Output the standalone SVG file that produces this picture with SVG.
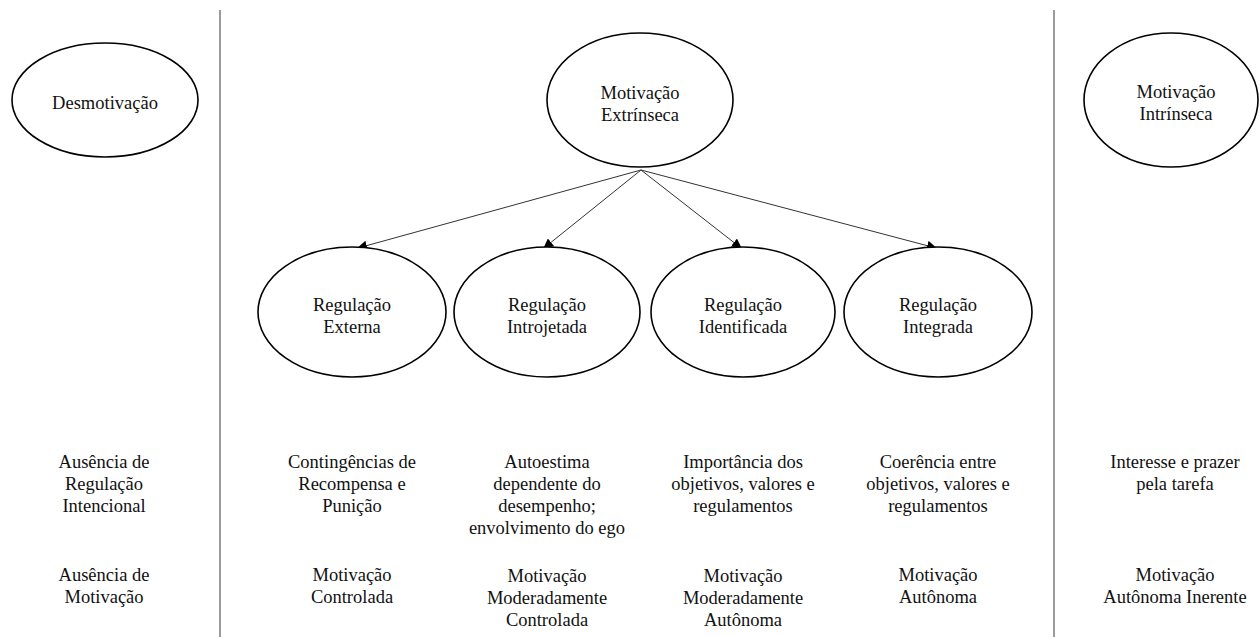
<svg xmlns="http://www.w3.org/2000/svg" width="1260" height="637" viewBox="0 0 1260 637">
<defs>
<marker id="arr" markerWidth="10" markerHeight="10" refX="9" refY="5" orient="auto" markerUnits="userSpaceOnUse">
<path d="M0,0 L10,5 L0,10 Z" fill="#000"/>
</marker>
<style>
.n{fill:#fff;stroke:#000;stroke-width:1.6}
text{font-family:'Liberation Serif','DejaVu Serif',serif;font-size:18.5px;fill:#111;text-anchor:middle}
.c{stroke:#333;stroke-width:1;fill:none;marker-end:url(#arr)}
.d{stroke:#666;stroke-width:1.3}
</style>
</defs>
<rect width="1260" height="637" fill="#fff"/>
<g id="dividers">
<line class="d" x1="220" y1="10" x2="220" y2="637"/>
<line class="d" x1="1054" y1="10" x2="1054" y2="637"/>
</g>
<g id="connectors">
<line class="c" x1="641" y1="170" x2="358" y2="248"/>
<line class="c" x1="641" y1="170" x2="544" y2="248"/>
<line class="c" x1="641" y1="170" x2="741" y2="248"/>
<line class="c" x1="641" y1="170" x2="936" y2="248"/>
</g>
<g id="desmotivacao">
<ellipse class="n" cx="105" cy="100" rx="93" ry="57"/>
<text x="105" y="109">Desmotivação</text>
</g>
<g id="extrinseca">
<ellipse class="n" cx="640" cy="100" rx="93" ry="67"/>
<text x="640" y="99">Motivação</text>
<text x="640" y="121">Extrínseca</text>
</g>
<g id="intrinseca">
<ellipse class="n" cx="1171" cy="100" rx="87" ry="67"/>
<text x="1176" y="98">Motivação</text>
<text x="1176" y="120">Intrínseca</text>
</g>
<g id="externa">
<ellipse class="n" cx="352" cy="312" rx="94" ry="65"/>
<text x="352" y="311">Regulação</text>
<text x="352" y="333">Externa</text>
</g>
<g id="introjetada">
<ellipse class="n" cx="547" cy="312" rx="93" ry="65"/>
<text x="547" y="311">Regulação</text>
<text x="547" y="333">Introjetada</text>
</g>
<g id="identificada">
<ellipse class="n" cx="743" cy="312" rx="92" ry="65"/>
<text x="743" y="311">Regulação</text>
<text x="743" y="333">Identificada</text>
</g>
<g id="integrada">
<ellipse class="n" cx="938" cy="312" rx="94" ry="65"/>
<text x="938" y="311">Regulação</text>
<text x="938" y="333">Integrada</text>
</g>
<g id="row1">
<text x="104" y="468">Ausência de</text>
<text x="104" y="490">Regulação</text>
<text x="104" y="512">Intencional</text>
<text x="352" y="468">Contingências de</text>
<text x="352" y="490">Recompensa e</text>
<text x="352" y="512">Punição</text>
<text x="547" y="468">Autoestima</text>
<text x="547" y="490">dependente do</text>
<text x="547" y="512">desempenho;</text>
<text x="547" y="534">envolvimento do ego</text>
<text x="743" y="468">Importância dos</text>
<text x="743" y="490">objetivos, valores e</text>
<text x="743" y="512">regulamentos</text>
<text x="938" y="468">Coerência entre</text>
<text x="938" y="490">objetivos, valores e</text>
<text x="938" y="512">regulamentos</text>
<text x="1175" y="468">Interesse e prazer</text>
<text x="1175" y="490">pela tarefa</text>
</g>
<g id="row2">
<text x="104" y="581">Ausência de</text>
<text x="104" y="603">Motivação</text>
<text x="352" y="581">Motivação</text>
<text x="352" y="603">Controlada</text>
<text x="547" y="582">Motivação</text>
<text x="547" y="604">Moderadamente</text>
<text x="547" y="626">Controlada</text>
<text x="743" y="582">Motivação</text>
<text x="743" y="604">Moderadamente</text>
<text x="743" y="626">Autônoma</text>
<text x="938" y="581">Motivação</text>
<text x="938" y="603">Autônoma</text>
<text x="1175" y="581">Motivação</text>
<text x="1175" y="603">Autônoma Inerente</text>
</g>
</svg>
